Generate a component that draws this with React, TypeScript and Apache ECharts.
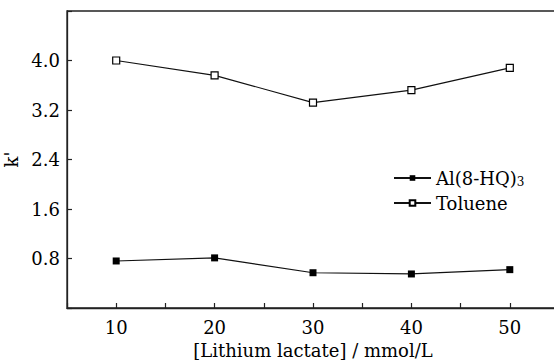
import React, { useEffect, useRef } from "react";
import * as echarts from "echarts";

const concentrations = [10, 20, 30, 40, 50];
const alValues = [0.76, 0.81, 0.57, 0.55, 0.62];
const tolueneValues = [4.0, 3.76, 3.32, 3.52, 3.88];
const seriesNames = ["Al(8-HQ)3", "Toluene"];
const xTitle = "[Lithium lactate] / mmol/L";
const yTitle = "k'";

const FONT = "'DejaVu Serif', 'Liberation Serif', serif";
const FS = 18;

export default function App() {
  const ref = useRef<HTMLDivElement>(null);
  useEffect(() => {
    document.body.style.margin = "0";
    document.body.style.overflow = "hidden";
    const chart = echarts.init(ref.current!, null, { renderer: "svg" });
    const toPairs = (vals: number[]) => concentrations.map((c, i) => [c, vals[i]]);
    chart.setOption({
      animation: false,
      backgroundColor: "#ffffff",
      textStyle: { fontFamily: FONT, color: "#000" },
      grid: {
        left: 67,
        top: 11,
        right: -5,
        bottom: 55,
        outerBoundsMode: "none",
        containLabel: false,
        show: true,
        borderColor: "#222",
        borderWidth: 1.3,
      },
      legend: {
        left: 388,
        top: 164,
        orient: "vertical",
        itemWidth: 37,
        itemHeight: 7,
        itemGap: 6,
        data: seriesNames,
        textStyle: {
          fontFamily: FONT,
          fontSize: FS,
          color: "#000",
          rich: {
            n: { fontFamily: FONT, fontSize: FS, color: "#000" },
            s: { fontFamily: FONT, fontSize: 12, color: "#000", padding: [8, 0, 0, 0] },
          },
        },
        formatter: (name: string) =>
          name === seriesNames[0] ? "{n|Al(8-HQ)}{s|3}" : "{n|" + name + "}",
      },
      xAxis: {
        type: "value",
        min: 5,
        max: 55,
        interval: 5,
        name: xTitle,
        nameLocation: "middle",
        nameGap: 33,
        nameTextStyle: { fontFamily: FONT, fontSize: FS, color: "#000" },
        axisLine: { lineStyle: { color: "#222", width: 1.3 } },
        axisTick: { inside: true, length: 5, lineStyle: { color: "#222", width: 1.2 } },
        splitLine: { show: false },
        axisLabel: {
          fontFamily: FONT,
          fontSize: FS,
          color: "#000",
          margin: 10,
          formatter: (v: number) => (Math.round(v) % 10 === 0 && v > 6 && v < 54 ? String(Math.round(v)) : ""),
        },
      },
      yAxis: {
        type: "value",
        min: 0,
        max: 4.8,
        interval: 0.8,
        name: yTitle,
        nameLocation: "middle",
        nameRotate: 90,
        nameGap: 45,
        nameTextStyle: { fontFamily: FONT, fontSize: FS, color: "#000" },
        axisLine: { show: true, lineStyle: { color: "#222", width: 1.3 } },
        axisTick: { show: true, inside: true, length: 5, lineStyle: { color: "#222", width: 1.2 } },
        splitLine: { show: false },
        axisLabel: {
          fontFamily: FONT,
          fontSize: FS,
          color: "#000",
          margin: 7,
          formatter: (v: number) => (v < 0.01 || v > 4.7 ? "" : v.toFixed(1)),
        },
      },
      series: [
        {
          name: seriesNames[0],
          type: "line",
          data: toPairs(alValues),
          symbol: "rect",
          symbolSize: 7,
          itemStyle: { color: "#000", borderColor: "#000", borderWidth: 0 },
          lineStyle: { color: "#111", width: 1.2 },
        },
        {
          name: seriesNames[1],
          type: "line",
          data: toPairs(tolueneValues),
          symbol: "rect",
          symbolSize: 7,
          itemStyle: { color: "#fff", borderColor: "#000", borderWidth: 1.2 },
          lineStyle: { color: "#111", width: 1.2 },
        },
      ],
    });
    return () => chart.dispose();
  }, []);
  return <div ref={ref} style={{ width: 554, height: 363 }} />;
}
